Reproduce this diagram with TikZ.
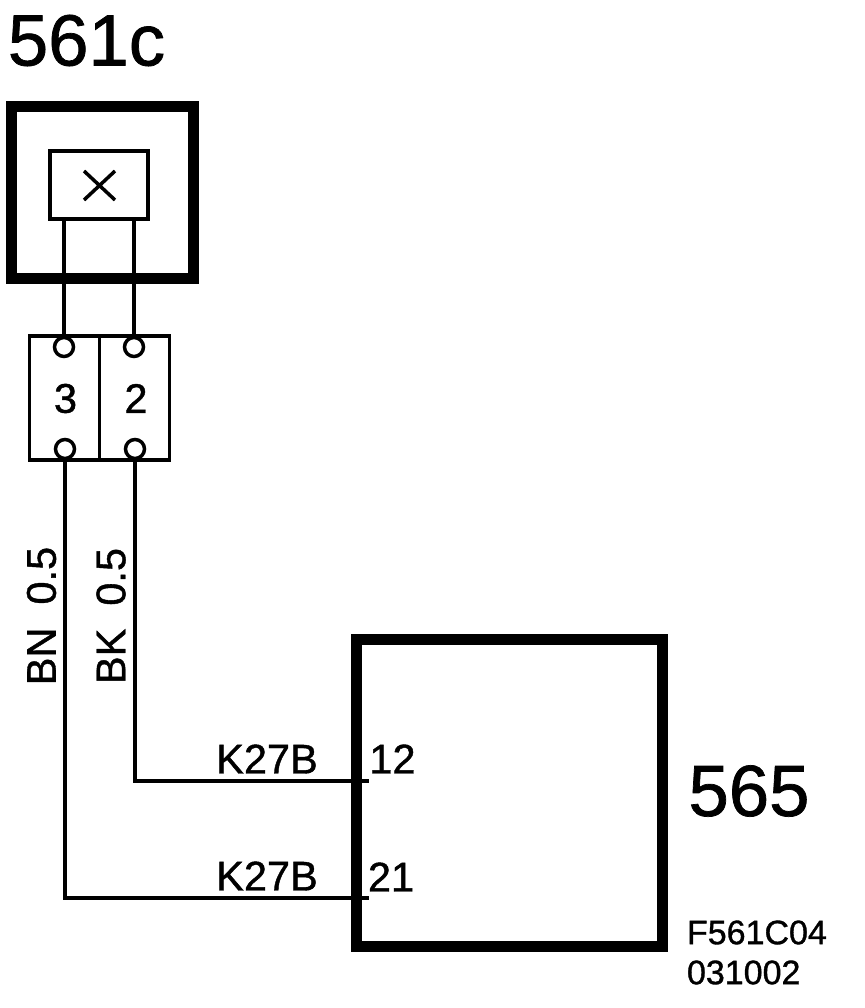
\documentclass[tikz,border=0pt]{standalone}
\usepackage{fontspec}
\setmainfont[FakeBold=1]{Liberation Sans}
\usetikzlibrary{arrows.meta,positioning}

\begin{document}
\begin{tikzpicture}[x=1pt, y=-1pt]
    \tikzstyle{unit} = [shape=rectangle, draw=black, line width=11pt, inner sep=0pt, outer sep=0pt];
    \tikzstyle{sensor} = [shape=rectangle, draw=black, line width=4pt, inner sep=0pt, outer sep=0pt, minimum width=98pt, minimum height=68pt];
    \tikzstyle{terminal} = [shape=rectangle, draw=black, line width=3.5pt, inner sep=0pt, outer sep=0pt, minimum width=70pt, minimum height=124pt];
    \tikzstyle{pin} = [shape=circle, draw=black, fill=white, line width=3.5pt, inner sep=0pt, outer sep=0pt, minimum size=19pt];
    \tikzstyle{wire} = [draw=black, line width=3.5pt];
    \tikzstyle{label} = [inner sep=0pt, outer sep=0pt, font=\fontsize{41.5}{41.5}\selectfont];
    \tikzstyle{title} = [inner sep=0pt, outer sep=0pt, font=\fontsize{72.5}{72.5}\selectfont];
    \tikzstyle{stamp} = [inner sep=0pt, outer sep=0pt, font=\fontsize{34}{34}\selectfont];

    \useasboundingbox (0,0) rectangle (864,1008);

    % titles
    \node[title](T561) at (86.5,40.5) {561c};
    \node[title](T565) at (749,791) {565};

    % units
    \node[unit, minimum width=182pt, minimum height=172pt](U561) at (102.5,192.5) {};
    \node[sensor](S) at (99,185) {};
    \node[unit, minimum width=306pt, minimum height=307pt](U565) at (509.5,793) {};

    % cross inside the sensor
    \coordinate (Xa) at (84,171);
    \coordinate (Xb) at (115,200);
    \coordinate (Xc) at (115,171);
    \coordinate (Xd) at (84,200);
    \draw[line width=3.5pt] (Xa) -- (Xb) (Xc) -- (Xd);

    % terminal block
    \node[terminal](T3) at (64.5,398) {};
    \node[terminal](T2) at (134.5,398) {};
    \node[label](N3) at (65.5,398.5) {3};
    \node[label](N2) at (136,398.5) {2};

    \node[pin](P3a) at (64,347) {};
    \node[pin](P3b) at (65,449) {};
    \node[pin](P2a) at (134,347) {};
    \node[pin](P2b) at (135,449) {};

    % pin ends on the control unit
    \coordinate (E12) at (369,781);
    \coordinate (E21) at (369,898);

    % wires
    \draw[wire] (S.south -| P3a) -- (P3a);
    \draw[wire] (S.south -| P2a) -- (P2a);
    \draw[wire] (P2b) |- (E12);
    \draw[wire] (P3b) |- (E21);

    % wire labels
    \node[label, rotate=90](BN) at (41.5,616) {BN\ \ 0.5};
    \node[label, rotate=90](BK) at (111,616) {BK\ \ 0.5};
    \node[label](K1) at (267,759) {K27B};
    \node[label](K2) at (267,876) {K27B};
    \node[label](N12) at (392.5,759) {12};
    \node[label](N21) at (391,877) {21};

    % drawing reference
    \node[stamp, anchor=west](F1) at (687,932.5) {F561C04};
    \node[stamp, anchor=west](F2) at (687,972.5) {031002};
\end{tikzpicture}
\end{document}
